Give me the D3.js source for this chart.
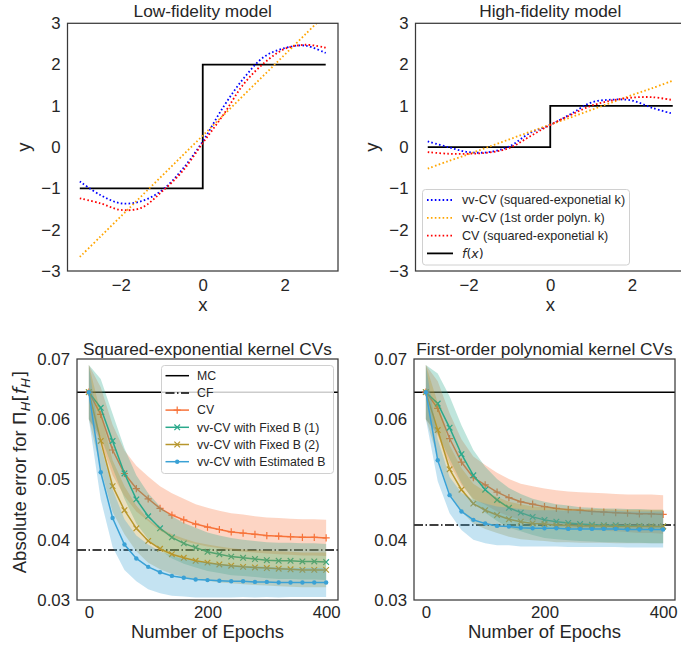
<!DOCTYPE html>
<html>
<head>
<meta charset="utf-8">
<title>vv-CV figures</title>
<script src="https://d3js.org/d3.v7.min.js"></script>
<style>
  body { margin: 0; background: #fff; }
  text { font-family: "Liberation Sans", Arial, sans-serif; fill: #262626; }
  .math { font-family: "DejaVu Sans", sans-serif; }
</style>
</head>
<body>
<svg width="681" height="648"></svg>
<script>
// ---- top row: fitted functions, read on a grid ----
var xGrid    = [-3, -2.5, -2, -1.5, -1, -0.5, 0, 0.5, 1, 1.5, 2, 2.5, 3];
var lowSE    = [-0.83, -1.16, -1.36, -1.31, -1.05, -0.54, 0.14, 0.97, 1.67, 2.19, 2.40, 2.46, 2.28];
var lowPoly  = [-2.66, -2.17, -1.68, -1.19, -0.70, -0.21, 0.28, 0.77, 1.26, 1.75, 2.24, 2.73, 3.22];
var lowCV    = [-1.24, -1.36, -1.52, -1.47, -1.08, -0.59, 0.10, 0.78, 1.53, 2.04, 2.38, 2.48, 2.41];
var highSE   = [0.14, 0.00, -0.12, -0.12, 0.02, 0.34, 0.54, 0.80, 1.08, 1.15, 1.13, 0.95, 0.81];
var highPoly = [-0.52, -0.34, -0.17, 0.01, 0.19, 0.37, 0.545, 0.72, 0.90, 1.08, 1.26, 1.43, 1.61];
var highCV   = [-0.12, -0.16, -0.16, -0.13, -0.02, 0.26, 0.54, 0.78, 1.00, 1.13, 1.20, 1.21, 1.14];
var stepX    = [-3, 0, 0, 3];
var lowStep  = [-1, -1, 2, 2];
var highStep = [0, 0, 1, 1];
var topTicksX = [-2, 0, 2];
var topTicksY = [-3, -2, -1, 0, 1, 2, 3];
var topLegend = ["vv-CV (squared-exponetial k)", "vv-CV (1st order polyn. k)", "CV (squared-exponetial k)"];

// ---- bottom row: absolute error vs epochs ----
var epochs = [0, 20, 40, 60, 80, 100, 120, 140, 160, 180, 200, 220, 240, 260, 280, 300, 320, 340, 360, 380, 400];
var seCV   = [0.0645, 0.0608, 0.0549, 0.0510, 0.0485, 0.0468, 0.0452, 0.0441, 0.0433, 0.0426, 0.0421, 0.0417, 0.0413, 0.0411, 0.0409, 0.0407, 0.0406, 0.0405, 0.0404, 0.0404, 0.0403];
var seB1   = [0.0645, 0.0619, 0.0564, 0.0510, 0.0467, 0.0439, 0.0419, 0.0404, 0.0394, 0.0387, 0.0380, 0.0376, 0.0372, 0.0370, 0.0368, 0.0366, 0.0365, 0.0365, 0.0364, 0.0364, 0.0363];
var seB2   = [0.0645, 0.0564, 0.0489, 0.0449, 0.0419, 0.0398, 0.0385, 0.0376, 0.0370, 0.0365, 0.0362, 0.0359, 0.0357, 0.0355, 0.0354, 0.0353, 0.0352, 0.0351, 0.0350, 0.0350, 0.0350];
var seEst  = [0.0645, 0.0512, 0.0436, 0.0392, 0.0369, 0.0355, 0.0346, 0.0340, 0.0337, 0.0334, 0.0333, 0.0332, 0.0331, 0.0331, 0.0330, 0.0330, 0.0329, 0.0329, 0.0329, 0.0329, 0.0329];
var seCVsd  = [0.0045, 0.0045, 0.0042, 0.0038, 0.0038, 0.0037, 0.0037, 0.0036, 0.0035, 0.0033, 0.0032, 0.0031, 0.0031, 0.0031, 0.0030, 0.0030, 0.0030, 0.0030, 0.0030, 0.0030, 0.0030];
var seB1sd  = [0.0045, 0.0048, 0.0045, 0.0042, 0.0040, 0.0038, 0.0036, 0.0035, 0.0034, 0.0033, 0.0032, 0.0031, 0.0031, 0.0030, 0.0030, 0.0030, 0.0030, 0.0030, 0.0030, 0.0030, 0.0030];
var seB2sd  = [0.0045, 0.0046, 0.0043, 0.0040, 0.0038, 0.0036, 0.0034, 0.0033, 0.0032, 0.0031, 0.0030, 0.0030, 0.0029, 0.0029, 0.0029, 0.0029, 0.0029, 0.0029, 0.0029, 0.0029, 0.0029];
var seEstsd = [0.0045, 0.0045, 0.0048, 0.0042, 0.0038, 0.0037, 0.0035, 0.0033, 0.0031, 0.0030, 0.0029, 0.0028, 0.0027, 0.0026, 0.0026, 0.0025, 0.0025, 0.0024, 0.0024, 0.0024, 0.0024];
var polyCV  = [0.0645, 0.0618, 0.0568, 0.0529, 0.0503, 0.0491, 0.0479, 0.0470, 0.0463, 0.0459, 0.0455, 0.0452, 0.0450, 0.0449, 0.0447, 0.0446, 0.0445, 0.0444, 0.0443, 0.0443, 0.0442];
var polyB1  = [0.0645, 0.0626, 0.0586, 0.0542, 0.0507, 0.0483, 0.0466, 0.0453, 0.0445, 0.0438, 0.0433, 0.0430, 0.0428, 0.0426, 0.0425, 0.0424, 0.0424, 0.0423, 0.0423, 0.0422, 0.0422];
var polyB2  = [0.0645, 0.0582, 0.0517, 0.0483, 0.0460, 0.0449, 0.0441, 0.0434, 0.0430, 0.0427, 0.0426, 0.0424, 0.0424, 0.0423, 0.0423, 0.0423, 0.0422, 0.0422, 0.0422, 0.0422, 0.0422];
var polyEst = [0.0645, 0.0532, 0.0474, 0.0447, 0.0433, 0.0427, 0.0423, 0.0422, 0.0420, 0.0419, 0.0419, 0.0419, 0.0418, 0.0418, 0.0418, 0.0418, 0.0418, 0.0417, 0.0417, 0.0417, 0.0417];
var polyCVsd  = [0.0045, 0.0045, 0.0042, 0.0038, 0.0035, 0.0033, 0.0032, 0.0031, 0.0030, 0.0030, 0.0030, 0.0030, 0.0030, 0.0030, 0.0031, 0.0031, 0.0031, 0.0031, 0.0032, 0.0032, 0.0032];
var polyB1sd  = [0.0045, 0.0050, 0.0052, 0.0048, 0.0042, 0.0038, 0.0035, 0.0033, 0.0031, 0.0030, 0.0030, 0.0029, 0.0029, 0.0028, 0.0028, 0.0028, 0.0028, 0.0028, 0.0028, 0.0028, 0.0028];
var polyB2sd  = [0.0045, 0.0045, 0.0040, 0.0036, 0.0033, 0.0031, 0.0030, 0.0029, 0.0029, 0.0028, 0.0028, 0.0028, 0.0028, 0.0028, 0.0028, 0.0028, 0.0028, 0.0028, 0.0028, 0.0028, 0.0028];
var polyEstsd = [0.0045, 0.0035, 0.0030, 0.0031, 0.0033, 0.0033, 0.0032, 0.0031, 0.0031, 0.0030, 0.0030, 0.0030, 0.0030, 0.0030, 0.0030, 0.0030, 0.0030, 0.0030, 0.0030, 0.0030, 0.0030];
var seMC = 0.0645, seCF = 0.0383;
var polyMC = 0.0645, polyCF = 0.04245;
var botTicksX = [0, 200, 400];
var botTicksY = [0.03, 0.04, 0.05, 0.06, 0.07];
var botLegend = ["MC", "CF", "CV", "vv-CV with Fixed B (1)", "vv-CV with Fixed B (2)", "vv-CV with Estimated B"];
var seriesColor = ["#f7733a", "#2aa98b", "#b7962c", "#3aa1d5"];
var seriesMark  = ["plus", "cross", "cross", "dot"];

var svg = d3.select("svg");
var INK = "#262626";

function panel(c) {
  var x = d3.scaleLinear().domain(c.xDomain).range(c.xRange);
  var y = d3.scaleLinear().domain(c.yDomain).range(c.yRange);
  var g = svg.append("g");
  g.append("clipPath").attr("id", c.id)
    .append("rect")
      .attr("x", c.xRange[0]).attr("y", c.yRange[1])
      .attr("width", c.xRange[1] - c.xRange[0])
      .attr("height", c.yRange[0] - c.yRange[1]);

  var ax = g.append("g")
    .attr("transform", "translate(0," + c.yRange[0] + ")")
    .call(d3.axisBottom(x).tickValues(c.xTicks).tickSize(0).tickPadding(c.xPad).tickFormat(d3.format("d")));
  var ay = g.append("g")
    .attr("transform", "translate(" + c.xRange[0] + ",0)")
    .call(d3.axisLeft(y).tickValues(c.yTicks).tickSize(0).tickPadding(7).tickFormat(c.yFormat));
  [ax, ay].forEach(function(a) {
    a.select(".domain").remove();
    a.attr("font-family", null).attr("font-size", null);
    a.selectAll("text").style("font-size", "16.8px").attr("fill", INK);
  });

  var plot = g.append("g").attr("clip-path", "url(#" + c.id + ")");

  g.append("text")
    .attr("x", (c.xRange[0] + c.xRange[1]) / 2)
    .attr("y", c.titleY)
    .attr("text-anchor", "middle")
    .style("font-size", "17.3px")
    .text(c.title);

  return { g: g, x: x, y: y, plot: plot, c: c };
}

function spines(p) {
  var c = p.c;
  p.g.append("rect")
    .attr("x", c.xRange[0]).attr("y", c.yRange[1])
    .attr("width", c.xRange[1] - c.xRange[0])
    .attr("height", c.yRange[0] - c.yRange[1])
    .attr("fill", "none")
    .attr("stroke", "#3a3a3a")
    .attr("stroke-width", 1.25);
}

function zip(xs, ys) {
  return xs.map(function(v, i) { return [v, ys[i]]; });
}

// ---------- top panels ----------
function topPanel(cfg, se, poly, cv, step) {
  var p = panel(cfg);
  var line = d3.line()
    .x(function(d) { return p.x(d[0]); })
    .y(function(d) { return p.y(d[1]); })
    .curve(d3.curveCatmullRom.alpha(0.5));
  var stepLine = d3.line()
    .x(function(d) { return p.x(d[0]); })
    .y(function(d) { return p.y(d[1]); });

  p.plot.append("path")
    .attr("d", stepLine(zip(stepX, step)))
    .attr("fill", "none").attr("stroke", "black").attr("stroke-width", 1.8);

  [[se, "blue"], [poly, "orange"], [cv, "red"]].forEach(function(s) {
    p.plot.append("path")
      .attr("d", line(zip(xGrid, s[0])))
      .attr("fill", "none")
      .attr("stroke", s[1])
      .attr("stroke-width", 1.8)
      .attr("stroke-dasharray", "1.6,2.3");
  });

  // axis labels
  p.g.append("text")
    .attr("x", (cfg.xRange[0] + cfg.xRange[1]) / 2)
    .attr("y", cfg.yRange[0] + 40)
    .attr("text-anchor", "middle")
    .style("font-size", "18.5px")
    .text("x");
  p.g.append("text")
    .attr("transform", "translate(" + cfg.yLabelX + "," + (cfg.yRange[0] + cfg.yRange[1]) / 2 + ") rotate(-90)")
    .attr("text-anchor", "middle")
    .style("font-size", "18.5px")
    .text("y");
  spines(p);
  return p;
}

var tl = topPanel({
  id: "clipTL", xDomain: [-3.3, 3.3], xRange: [67.5, 338], yDomain: [-3, 3], yRange: [271, 23.3],
  xTicks: topTicksX, yTicks: topTicksY, yFormat: d3.format("d"), xPad: 8,
  title: "Low-fidelity model", titleY: 17, yLabelX: 30
}, lowSE, lowPoly, lowCV, lowStep);

var tr = topPanel({
  id: "clipTR", xDomain: [-3.3, 3.3], xRange: [415.5, 685], yDomain: [-3, 3], yRange: [271, 23.3],
  xTicks: topTicksX, yTicks: topTicksY, yFormat: d3.format("d"), xPad: 8,
  title: "High-fidelity model", titleY: 17, yLabelX: 378
}, highSE, highPoly, highCV, highStep);

// legend for the top-right panel
(function() {
  var lg = svg.append("g");
  lg.append("rect")
    .attr("x", 422.5).attr("y", 189.5).attr("width", 207).attr("height", 75.5)
    .attr("rx", 3)
    .attr("fill", "white").attr("fill-opacity", 0.8)
    .attr("stroke", "#d0d0d0").attr("stroke-width", 1);
  var rowY = [200, 217.8, 235.6, 253.4];
  var cols = ["blue", "orange", "red"];
  topLegend.forEach(function(t, i) {
    lg.append("line")
      .attr("x1", 427).attr("x2", 453).attr("y1", rowY[i]).attr("y2", rowY[i])
      .attr("stroke", cols[i]).attr("stroke-width", 1.8).attr("stroke-dasharray", "1.6,2.3");
    lg.append("text")
      .attr("x", 462).attr("y", rowY[i]).attr("dy", "0.35em")
      .style("font-size", "12.6px")
      .text(t);
  });
  lg.append("line")
    .attr("x1", 427).attr("x2", 453).attr("y1", rowY[3]).attr("y2", rowY[3])
    .attr("stroke", "black").attr("stroke-width", 1.8);
  var ft = lg.append("text")
    .attr("x", 462).attr("y", rowY[3]).attr("dy", "0.35em")
    .attr("class", "math")
    .style("font-size", "12.6px");
  ft.append("tspan").style("font-style", "italic").text("f");
  ft.append("tspan").text("(");
  ft.append("tspan").style("font-style", "italic").text("x");
  ft.append("tspan").text(")");
})();

// ---------- bottom panels ----------
function marker(sel, kind, color) {
  if (kind === "plus") {
    sel.append("path").attr("d", "M-3.6,0H3.6M0,-3.6V3.6")
      .attr("stroke", color).attr("stroke-width", 1.2).attr("fill", "none");
  } else if (kind === "cross") {
    sel.append("path").attr("d", "M-2.8,-2.8L2.8,2.8M-2.8,2.8L2.8,-2.8")
      .attr("stroke", color).attr("stroke-width", 1.2).attr("fill", "none");
  } else {
    sel.append("circle").attr("r", 2.2).attr("fill", color);
  }
}

function botPanel(cfg, means, sds, mc, cf) {
  var p = panel(cfg);
  var area = d3.area()
    .x(function(d) { return p.x(d.e); })
    .y0(function(d) { return p.y(d.m - d.s); })
    .y1(function(d) { return p.y(d.m + d.s); });
  var line = d3.line()
    .x(function(d) { return p.x(d.e); })
    .y(function(d) { return p.y(d.m); });

  p.plot.append("line")
    .attr("x1", p.x(cfg.xDomain[0])).attr("x2", p.x(cfg.xDomain[1]))
    .attr("y1", p.y(mc)).attr("y2", p.y(mc))
    .attr("stroke", "black").attr("stroke-width", 1.5);
  p.plot.append("line")
    .attr("x1", p.x(cfg.xDomain[0])).attr("x2", p.x(cfg.xDomain[1]))
    .attr("y1", p.y(cf)).attr("y2", p.y(cf))
    .attr("stroke", "black").attr("stroke-width", 1.5)
    .attr("stroke-dasharray", "9,2.5,1.5,2.5");

  means.forEach(function(m, k) {
    var data = epochs.map(function(e, i) { return { e: e, m: m[i], s: sds[k][i] }; });
    p.plot.append("path")
      .attr("d", area(data))
      .attr("fill", seriesColor[k]).attr("fill-opacity", 0.3);
    p.plot.append("path")
      .attr("d", line(data))
      .attr("fill", "none").attr("stroke", seriesColor[k]).attr("stroke-width", 1.5);
    p.plot.selectAll(".mk" + k).data(data).enter()
      .append("g")
        .attr("class", "mk" + k)
        .attr("transform", function(d) { return "translate(" + p.x(d.e) + "," + p.y(d.m) + ")"; })
        .each(function() { marker(d3.select(this), seriesMark[k], seriesColor[k]); });
  });

  p.g.append("text")
    .attr("x", (cfg.xRange[0] + cfg.xRange[1]) / 2)
    .attr("y", cfg.yRange[0] + 38)
    .attr("text-anchor", "middle")
    .style("font-size", "18.5px")
    .text("Number of Epochs");
  spines(p);
  return p;
}

var bl = botPanel({
  id: "clipBL", xDomain: [-20, 420], xRange: [77, 338], yDomain: [0.03, 0.07], yRange: [600, 359],
  xTicks: botTicksX, yTicks: botTicksY, yFormat: d3.format(".2f"), xPad: 6,
  title: "Squared-exponential kernel CVs", titleY: 355
}, [seCV, seB1, seB2, seEst], [seCVsd, seB1sd, seB2sd, seEstsd], seMC, seCF);

var br = botPanel({
  id: "clipBR", xDomain: [-20, 420], xRange: [414, 675], yDomain: [0.03, 0.07], yRange: [600, 359],
  xTicks: botTicksX, yTicks: botTicksY, yFormat: d3.format(".2f"), xPad: 6,
  title: "First-order polynomial kernel CVs", titleY: 355
}, [polyCV, polyB1, polyB2, polyEst], [polyCVsd, polyB1sd, polyB2sd, polyEstsd], polyMC, polyCF);

// y label of the bottom-left panel with math part
(function() {
  var t = svg.append("text")
    .attr("transform", "translate(26,472) rotate(-90)")
    .attr("text-anchor", "middle")
    .style("font-size", "18.5px");
  t.append("tspan").text("Absolute error for ");
  t.append("tspan").attr("class", "math").text("\u03A0");
  t.append("tspan").attr("class", "math").style("font-style", "italic").style("font-size", "13px").attr("dy", "0.3em").text("H");
  t.append("tspan").attr("class", "math").attr("dy", "-0.22em").text("[");
  t.append("tspan").attr("class", "math").style("font-style", "italic").text("f");
  t.append("tspan").attr("class", "math").style("font-style", "italic").style("font-size", "13px").attr("dy", "0.3em").text("H");
  t.append("tspan").attr("class", "math").attr("dy", "-0.22em").text("]");
})();

// legend for the bottom-left panel
(function() {
  var lg = svg.append("g");
  lg.append("rect")
    .attr("x", 161.5).attr("y", 365.5).attr("width", 172).attr("height", 108)
    .attr("rx", 3)
    .attr("fill", "white").attr("fill-opacity", 0.8)
    .attr("stroke", "#d0d0d0").attr("stroke-width", 1);
  var rowY = [375.7, 392.9, 410.1, 427.3, 444.5, 461.7];
  botLegend.forEach(function(t, i) {
    var col = i < 2 ? "black" : seriesColor[i - 2];
    var ln = lg.append("line")
      .attr("x1", 165.5).attr("x2", 189).attr("y1", rowY[i]).attr("y2", rowY[i])
      .attr("stroke", col).attr("stroke-width", 1.5);
    if (i === 1) ln.attr("stroke-dasharray", "9,2.5,1.5,2.5");
    if (i >= 2) marker(lg.append("g").attr("transform", "translate(177.2," + rowY[i] + ")"), seriesMark[i - 2], col);
    lg.append("text")
      .attr("x", 197).attr("y", rowY[i]).attr("dy", "0.35em")
      .style("font-size", "12.3px")
      .text(t);
  });
})();
</script>
</body>
</html>
